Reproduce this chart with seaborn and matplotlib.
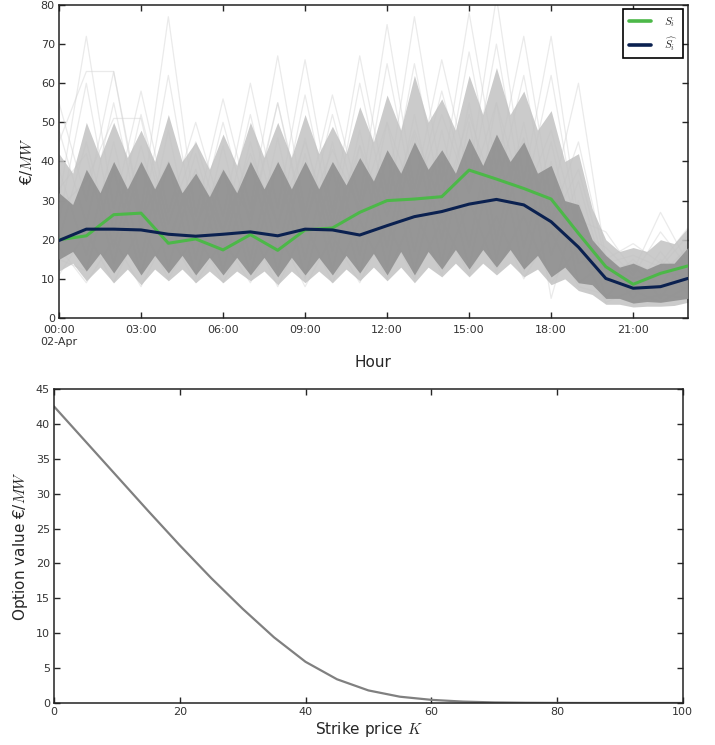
import numpy as np
import pandas as pd
import matplotlib
matplotlib.use('Agg')
import matplotlib.pyplot as plt
import seaborn as sns

# --- datos: precios horarios (02-Apr) ---
horas = list(range(24))
precio_real = [20, 21, 26.4, 26.8, 19.1, 20.2, 17.4, 21.3, 17.3, 22.5, 23, 27,
               30.0, 30.4, 31.0, 37.8, 35.5, 33.1, 30.4, 21.6, 13.1, 8.6, 11.4, 13.3]
precio_estimado = [19.8, 22.7, 22.7, 22.5, 21.4, 20.9, 21.4, 22.0, 21.0, 22.7, 22.5, 21.2,
                   23.6, 25.9, 27.2, 29.1, 30.3, 28.9, 24.6, 18.1, 10.1, 7.6, 8.0, 10.1]

# envolventes del abanico de escenarios, leidas cada media hora (0, 0.5, ..., 23)
medias_horas = [h / 2 for h in range(47)]
nucleo_sup = [32, 29, 38, 32, 40, 33, 40, 33, 40, 32, 37, 31, 38, 32, 40, 33, 40, 33, 40, 33,
              40, 34, 41, 35, 43, 37, 45, 38, 43, 37, 46, 39, 47, 40, 45, 37, 39, 30, 29, 20,
              16, 13, 14, 12.5, 14, 14, 18]
nucleo_inf = [15, 17, 12, 16.5, 11.5, 16.5, 11, 16, 11.5, 16, 11, 15.5, 11, 15.5, 11, 15.5,
              10.5, 15.5, 11, 15.5, 11, 16, 11.5, 16.5, 11, 17, 11, 17, 12.5, 17.5, 12.5, 17.5,
              13, 17.5, 12.5, 16, 10.5, 13, 9, 8.5, 5, 5, 3.8, 4.2, 4, 4.5, 5]
medio_sup = [42, 37, 50, 41, 50, 41, 48, 40, 52, 40, 45, 38, 47, 39, 50, 41, 50, 41, 52, 42,
             49, 42, 54, 45, 57, 48, 62, 50, 56, 48, 62, 52, 64, 52, 58, 48, 53, 40, 42, 28,
             20, 17, 18, 17, 20, 19, 23]
medio_inf = [12, 14, 9.5, 13, 9, 12.5, 8.5, 12.5, 9.5, 12.5, 9, 12, 9, 12, 9.5, 12, 8.5, 12,
             9, 12, 9, 12.5, 9.5, 13, 9.5, 13, 9, 13, 10.5, 14, 10.5, 14, 11, 14, 10.5, 12.5,
             8.5, 10, 7, 6, 3.5, 3.5, 2.8, 3, 3, 3.2, 4]

# algunos escenarios individuales (trayectorias extremas y de textura)
escenarios = {
    'a': [30, 72, 28, 58, 27, 50, 26, 60, 28, 66, 27, 67, 32, 77, 35, 78, 38, 72, 30, 60, 15, 19, 14, 23],
    'b': [55, 30, 63, 27, 77, 26, 56, 28, 67, 27, 57, 30, 75, 33, 66, 36, 82, 35, 72, 25, 22, 12, 27, 14],
    'c': [45, 63, 63, 25, 40, 24, 38, 26, 55, 25, 43, 28, 50, 30, 52, 32, 55, 30, 48, 22, 14, 10, 12, 15],
    'd': [28, 35, 51, 51, 20, 38, 22, 42, 24, 45, 22, 44, 26, 48, 28, 52, 30, 46, 24, 38, 12, 14, 11, 18],
    'e': [25, 60, 22, 52, 24, 45, 22, 52, 23, 57, 24, 60, 28, 65, 30, 68, 32, 62, 25, 45, 14, 16, 13, 21],
    'f': [48, 24, 55, 23, 62, 22, 50, 24, 55, 23, 52, 26, 65, 30, 58, 32, 70, 30, 62, 22, 18, 11, 22, 13],
    'g': [20, 45, 18, 44, 18, 42, 17, 45, 17, 46, 17, 48, 18, 52, 20, 55, 20, 50, 16, 35, 9, 15, 8, 19],
    'h': [38, 16, 45, 15, 48, 15, 44, 15, 46, 15, 45, 16, 50, 17, 48, 18, 55, 18, 45, 14, 16, 7, 17, 8],
    'i': [18, 9, 20, 8, 22, 9, 20, 9, 22, 8, 21, 9, 24, 10, 25, 11, 26, 10, 22, 8, 6, 4, 6, 5],
    'j': [11, 22, 9, 24, 10, 22, 9, 23, 8, 24, 9, 25, 10, 28, 11, 30, 12, 26, 9, 18, 4, 7, 4, 8],
    'k': [33, 42, 14, 40, 13, 38, 12, 40, 12, 42, 12, 44, 13, 47, 14, 50, 15, 46, 5, 30, 5, 14, 5, 16],
    'l': [15, 12, 38, 11, 40, 10, 38, 11, 40, 10, 38, 11, 42, 12, 40, 13, 45, 12, 40, 9, 14, 5, 15, 6],
}
etiquetas_hora = ['00:00\n02-Apr', '03:00', '06:00', '09:00', '12:00', '15:00', '18:00', '21:00']

# --- datos: valor de la opcion segun el strike ---
strike = [0, 5, 10, 15, 20, 25, 30, 35, 40, 45, 50, 55, 60, 65, 70, 75, 80, 85, 90, 95, 100]
valor_opcion = [42.5, 37.5, 32.5, 27.5, 22.6, 17.9, 13.5, 9.4, 5.9, 3.4, 1.8, 0.9, 0.45,
                0.2, 0.08, 0.03, 0.01, 0, 0, 0, 0]

sns.set_style('ticks')
plt.rcParams['font.family'] = ['DejaVu Sans']
plt.rcParams['mathtext.fontset'] = 'cm'

fig = plt.figure(figsize=(7.15, 7.45), dpi=100)
ax1 = fig.add_axes([0.0825, 0.5732, 0.8795, 0.4201])
ax2 = fig.add_axes([0.0755, 0.0564, 0.8795, 0.4215])

# abanico de escenarios
df_esc = pd.DataFrame([
    {'escenario': k, 'hora': h, 'precio': v}
    for k, vals in escenarios.items() for h, v in zip(horas, vals)
])
sns.lineplot(data=df_esc, x='hora', y='precio', units='escenario', estimator=None,
             color='#d2d2d2', alpha=0.45, lw=0.9, ax=ax1, zorder=1)
ax1.fill_between(medias_horas, medio_inf, medio_sup, color='#c2c2c2', alpha=0.85, lw=0, zorder=2)
ax1.fill_between(medias_horas, nucleo_inf, nucleo_sup, color='#939393', alpha=0.95, lw=0, zorder=3)

sns.lineplot(x=horas, y=precio_real, color='#4cb848', lw=2.2, ax=ax1,
             label=r'$S_i$', zorder=5)
sns.lineplot(x=horas, y=precio_estimado, color='#0b2150', lw=2.2, ax=ax1,
             label=r'$\widehat{S_i}$', zorder=6)

ax1.set_xlim(0, 23)
ax1.set_ylim(0, 80)
ax1.set_xticks([0, 3, 6, 9, 12, 15, 18, 21])
ax1.set_xticklabels(etiquetas_hora)
ax1.set_yticks(range(0, 81, 10))
ax1.set_xlabel('Hour', fontsize=11, labelpad=6)
ax1.set_ylabel(r'€/$MW$', fontsize=11, labelpad=4)
leg = ax1.legend(loc='upper right', fontsize=8, frameon=True, fancybox=False,
                 handlelength=2.0, borderpad=0.5, labelspacing=0.6, handletextpad=1.2,
                 borderaxespad=0.4)
leg.get_frame().set_edgecolor('black')
leg.get_frame().set_linewidth(1.2)
leg.get_frame().set_alpha(1)
for ln in leg.get_lines():
    ln.set_linewidth(2.6)

# curva de valor de la opcion
sns.lineplot(x=strike, y=valor_opcion, color='#808080', lw=1.6, ax=ax2)
ax2.set_xlim(0, 100)
ax2.set_ylim(0, 45)
ax2.set_xticks(range(0, 101, 20))
ax2.set_yticks(range(0, 46, 5))
ax2.set_xlabel(r'Strike price $K$', fontsize=11, labelpad=2)
ax2.set_ylabel(r'Option value €/$MW$', fontsize=11, labelpad=4)

for ax in (ax1, ax2):
    ax.tick_params(direction='in', top=True, right=True, length=4, width=1,
                   labelsize=8, labelcolor='#333333', pad=3)
    for s in ax.spines.values():
        s.set_linewidth(1.1)
        s.set_color('#222222')
ax1.tick_params(axis='x', pad=5)

fig.savefig('out.png', dpi=100)
